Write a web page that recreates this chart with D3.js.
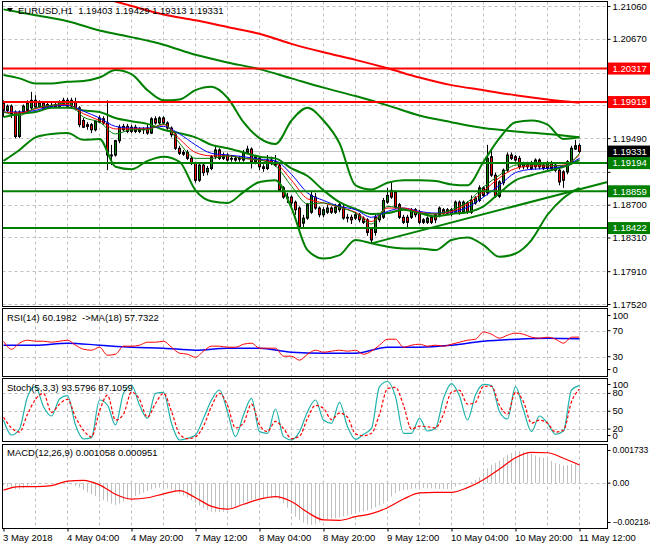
<!DOCTYPE html>
<html>
<head>
<meta charset="utf-8">
<script src="https://cdn.jsdelivr.net/npm/d3@7"></script>
<style>
body { margin: 0; background: #fff; }
svg { display: block; font-family: "Liberation Sans", Arial, sans-serif; font-size: 9.5px; }
</style>
</head>
<body>
<svg id="chart" width="650" height="550"></svg>
<script>
// ---- data (EURUSD H1) ----
const timeLabels = ["3 May 2018", "4 May 04:00", "4 May 20:00", "7 May 12:00", "8 May 04:00",
  "8 May 20:00", "9 May 12:00", "10 May 04:00", "10 May 20:00", "11 May 12:00"];
const priceTicks = [1.21060, 1.20670, 1.20270, 1.19880, 1.19490, 1.19090, 1.18700, 1.18310, 1.17910, 1.17520];

const opens = [1.1991, 1.1982, 1.1987, 1.1980, 1.1951, 1.1980, 1.1982, 1.1985, 1.1994, 1.1986,
  1.1991, 1.1989, 1.1986, 1.1989, 1.1986, 1.1989, 1.1994, 1.1987, 1.1992, 1.1985,
  1.1970, 1.1965, 1.1965, 1.1959, 1.1968, 1.1972, 1.1967, 1.1929, 1.1929, 1.1946,
  1.1959, 1.1963, 1.1957, 1.1962, 1.1957, 1.1960, 1.1961, 1.1955, 1.1972, 1.1967,
  1.1973, 1.1967, 1.1961, 1.1953, 1.1937, 1.1930, 1.1932, 1.1925, 1.1919, 1.1899,
  1.1917, 1.1909, 1.1913, 1.1927, 1.1935, 1.1925, 1.1929, 1.1925, 1.1925, 1.1924,
  1.1923, 1.1932, 1.1936, 1.1921, 1.1925, 1.1915, 1.1913, 1.1923, 1.1921, 1.1917,
  1.1890, 1.1879, 1.1879, 1.1873, 1.1866, 1.1848, 1.1854, 1.1861, 1.1879, 1.1866,
  1.1858, 1.1861, 1.1866, 1.1861, 1.1864, 1.1867, 1.1855, 1.1855, 1.1854, 1.1858,
  1.1854, 1.1852, 1.1841, 1.1837, 1.1852, 1.1855, 1.1873, 1.1887, 1.1885, 1.1870,
  1.1855, 1.1855, 1.1855, 1.1864, 1.1861, 1.1852, 1.1849, 1.1855, 1.1858, 1.1858,
  1.1864, 1.1860, 1.1864, 1.1861, 1.1873, 1.1861, 1.1872, 1.1861, 1.1872, 1.1875,
  1.1890, 1.1884, 1.1927, 1.1905, 1.1880, 1.1896, 1.1911, 1.1929, 1.1927, 1.1925,
  1.1915, 1.1918, 1.1913, 1.1915, 1.1923, 1.1917, 1.1913, 1.1919, 1.1911, 1.1911,
  1.1909, 1.1909, 1.1921, 1.1936, 1.19403];
const highs = [1.1994, 1.1989, 1.1989, 1.1982, 1.1982, 1.1989, 1.1994, 1.2004, 1.2000, 1.1994,
  1.1993, 1.1992, 1.1991, 1.1992, 1.1994, 1.1997, 1.1997, 1.1997, 1.1997, 1.1987,
  1.1973, 1.1968, 1.1967, 1.1970, 1.1976, 1.1975, 1.1994, 1.1941, 1.1947, 1.1965,
  1.1966, 1.1966, 1.1965, 1.1965, 1.1962, 1.1962, 1.1965, 1.1974, 1.1975, 1.1975,
  1.1975, 1.1969, 1.1963, 1.1955, 1.1940, 1.1935, 1.1935, 1.1928, 1.1921, 1.1919,
  1.1919, 1.1916, 1.1929, 1.1941, 1.1937, 1.1932, 1.1931, 1.1929, 1.1928, 1.1928,
  1.1935, 1.1940, 1.1938, 1.1929, 1.1928, 1.1918, 1.1929, 1.1927, 1.1929, 1.1919,
  1.1892, 1.1884, 1.1881, 1.1875, 1.1868, 1.1858, 1.1872, 1.1885, 1.1884, 1.1868,
  1.1867, 1.1870, 1.1868, 1.1871, 1.1873, 1.1870, 1.1859, 1.1858, 1.1861, 1.1860,
  1.1856, 1.1854, 1.1843, 1.1858, 1.1860, 1.1878, 1.1890, 1.1897, 1.1887, 1.1872,
  1.1858, 1.1858, 1.1866, 1.1866, 1.1864, 1.1854, 1.1856, 1.1858, 1.1860, 1.1868,
  1.1866, 1.1866, 1.1866, 1.1875, 1.1875, 1.1875, 1.1874, 1.1881, 1.1880, 1.1893,
  1.1892, 1.1941, 1.1935, 1.1908, 1.1899, 1.1913, 1.1932, 1.1932, 1.1929, 1.1928,
  1.1921, 1.1921, 1.1922, 1.1925, 1.1925, 1.1919, 1.1922, 1.1922, 1.1919, 1.1913,
  1.1911, 1.1923, 1.1940, 1.1947, 1.19429];
const lows = [1.1974, 1.1979, 1.1973, 1.1949, 1.1949, 1.1978, 1.1980, 1.1982, 1.1984, 1.1985,
  1.1984, 1.1984, 1.1985, 1.1985, 1.1985, 1.1987, 1.1986, 1.1986, 1.1982, 1.1962,
  1.1961, 1.1959, 1.1955, 1.1957, 1.1967, 1.1965, 1.1911, 1.1917, 1.1927, 1.1943,
  1.1957, 1.1955, 1.1955, 1.1955, 1.1955, 1.1954, 1.1953, 1.1954, 1.1965, 1.1965,
  1.1965, 1.1959, 1.1950, 1.1935, 1.1929, 1.1928, 1.1923, 1.1917, 1.1896, 1.1897,
  1.1904, 1.1905, 1.1911, 1.1924, 1.1923, 1.1923, 1.1921, 1.1921, 1.1921, 1.1921,
  1.1921, 1.1930, 1.1913, 1.1918, 1.1911, 1.1909, 1.1911, 1.1917, 1.1915, 1.1885,
  1.1877, 1.1872, 1.1864, 1.1858, 1.1840, 1.1842, 1.1852, 1.1859, 1.1864, 1.1855,
  1.1855, 1.1859, 1.1859, 1.1859, 1.1861, 1.1852, 1.1849, 1.1847, 1.1852, 1.1849,
  1.1847, 1.1833, 1.1824, 1.1833, 1.1849, 1.1853, 1.1871, 1.1877, 1.1865, 1.1853,
  1.1847, 1.1842, 1.1853, 1.1855, 1.1847, 1.1847, 1.1847, 1.1847, 1.1848, 1.1855,
  1.1858, 1.1858, 1.1856, 1.1859, 1.1858, 1.1859, 1.1859, 1.1859, 1.1870, 1.1873,
  1.1879, 1.1881, 1.1903, 1.1878, 1.1878, 1.1893, 1.1909, 1.1923, 1.1921, 1.1912,
  1.1912, 1.1912, 1.1911, 1.1912, 1.1912, 1.1911, 1.1911, 1.1911, 1.1909, 1.1893,
  1.1890, 1.1906, 1.1918, 1.1935, 1.19313];
const closes = [1.1982, 1.1987, 1.1978, 1.1951, 1.1980, 1.1987, 1.1991, 1.1994, 1.1986, 1.1991,
  1.1985, 1.1986, 1.1988, 1.1986, 1.1992, 1.1994, 1.1987, 1.1994, 1.1984, 1.1965,
  1.1962, 1.1963, 1.1959, 1.1969, 1.1973, 1.1967, 1.1929, 1.1928, 1.1946, 1.1962,
  1.1963, 1.1957, 1.1962, 1.1957, 1.1960, 1.1959, 1.1955, 1.1972, 1.1967, 1.1973,
  1.1967, 1.1961, 1.1953, 1.1937, 1.1931, 1.1932, 1.1925, 1.1919, 1.1899, 1.1917,
  1.1908, 1.1913, 1.1927, 1.1935, 1.1925, 1.1929, 1.1923, 1.1924, 1.1923, 1.1925,
  1.1932, 1.1936, 1.1921, 1.1927, 1.1915, 1.1913, 1.1923, 1.1919, 1.1917, 1.1887,
  1.1879, 1.1878, 1.1872, 1.1864, 1.1843, 1.1854, 1.1870, 1.1881, 1.1866, 1.1858,
  1.1864, 1.1866, 1.1861, 1.1867, 1.1870, 1.1854, 1.1854, 1.1852, 1.1858, 1.1852,
  1.1849, 1.1837, 1.1828, 1.1855, 1.1858, 1.1875, 1.1881, 1.1879, 1.1867, 1.1855,
  1.1849, 1.1849, 1.1864, 1.1858, 1.1849, 1.1849, 1.1854, 1.1849, 1.1852, 1.1866,
  1.1860, 1.1864, 1.1859, 1.1873, 1.1860, 1.1873, 1.1861, 1.1875, 1.1878, 1.1890,
  1.1881, 1.1925, 1.1905, 1.1880, 1.1897, 1.1911, 1.1929, 1.1925, 1.1923, 1.1915,
  1.1918, 1.1915, 1.1919, 1.1923, 1.1915, 1.1913, 1.1919, 1.1913, 1.1917, 1.1897,
  1.1899, 1.1921, 1.1937, 1.1940, 1.19331];

// indicator lines, one value every 4 bars
const bandStep = 4;
const bbUpper = [1.2024, 1.2020, 1.2014, 1.2014, 1.2016, 1.2017, 1.2021, 1.2030, 1.2025, 1.2006,
  1.1994, 1.1995, 1.2006, 1.2010, 1.1997, 1.1968, 1.1949, 1.1942, 1.1970, 1.1985,
  1.1970, 1.1943, 1.1893, 1.1888, 1.1896, 1.1899, 1.1899, 1.1898, 1.1894, 1.1893,
  1.1921, 1.1949, 1.1968, 1.1970, 1.1965, 1.1948, 1.1950];
const bbMiddle = [1.1974, 1.1978, 1.1980, 1.1985, 1.1985, 1.1982, 1.1980, 1.1973, 1.1969, 1.1966,
  1.1959, 1.1955, 1.1950, 1.1941, 1.1937, 1.1932, 1.1927, 1.1925, 1.1913, 1.1904,
  1.1887, 1.1873, 1.1865, 1.1859, 1.1860, 1.1864, 1.1860, 1.1856, 1.1859, 1.1861,
  1.1868, 1.1884, 1.1899, 1.1905, 1.1910, 1.1915, 1.1923];
const bbLower = [1.1922, 1.1935, 1.1950, 1.1954, 1.1955, 1.1947, 1.1948, 1.1915, 1.1912, 1.1922,
  1.1927, 1.1921, 1.1887, 1.1874, 1.1872, 1.1885, 1.1897, 1.1899, 1.1866, 1.1816,
  1.1806, 1.1810, 1.1828, 1.1824, 1.1820, 1.1818, 1.1818, 1.1816, 1.1828, 1.1831,
  1.1822, 1.1808, 1.1812, 1.1828, 1.1858, 1.1878, 1.1890];
const maBlue = [1.1980, 1.1980, 1.1982, 1.1987, 1.1988, 1.1981, 1.1973, 1.1963, 1.1961, 1.1961,
  1.1963, 1.1954, 1.1941, 1.1931, 1.1929, 1.1927, 1.1924, 1.1922, 1.1906, 1.1884,
  1.1875, 1.1868, 1.1864, 1.1855, 1.1862, 1.1866, 1.1862, 1.1860, 1.1861, 1.1867,
  1.1879, 1.1893, 1.1908, 1.1912, 1.1913, 1.1916, 1.1925];
const maRed = [1.1980, 1.1979, 1.1984, 1.1988, 1.1989, 1.1978, 1.1970, 1.1960, 1.1960, 1.1960,
  1.1965, 1.1948, 1.1932, 1.1928, 1.1928, 1.1925, 1.1923, 1.1919, 1.1899, 1.1877,
  1.1872, 1.1867, 1.1861, 1.1850, 1.1866, 1.1866, 1.1861, 1.1859, 1.1862, 1.1871,
  1.1886, 1.1902, 1.1913, 1.1916, 1.1916, 1.1917, 1.1929];
const maGreen = [1.1980, 1.1976, 1.1985, 1.1988, 1.1991, 1.1974, 1.1968, 1.1954, 1.1959, 1.1959,
  1.1966, 1.1943, 1.1925, 1.1925, 1.1928, 1.1925, 1.1923, 1.1916, 1.1892, 1.1871,
  1.1872, 1.1867, 1.1860, 1.1847, 1.1868, 1.1865, 1.1860, 1.1859, 1.1864, 1.1873,
  1.1891, 1.1905, 1.1917, 1.1918, 1.1917, 1.1916, 1.1931];

// slow moving averages, one value every 8 bars
const slowStep = 8;
const slowRed = [1.2149, 1.2139, 1.2128, 1.2117, 1.2106, 1.2096, 1.2089, 1.2081, 1.2073, 1.2061,
  1.2051, 1.2042, 1.2032, 1.2021, 1.2012, 1.2006, 1.2000, 1.1995, 1.1991];
const slowGreen = [1.2102, 1.2095, 1.2088, 1.2077, 1.2069, 1.2060, 1.2048, 1.2039, 1.2031, 1.2020,
  1.2009, 1.1999, 1.1988, 1.1976, 1.1968, 1.1961, 1.1957, 1.1954, 1.1950];

const redLevels = [1.20317, 1.19919];
const greenLevels = [1.19194, 1.18859, 1.18422];
const trendIdx = [92, 151];
const trendPrice = [1.1824, 1.1897];

// oscillators, one value every 2 bars
const oscStep = 2;
const rsiValues = [53.8, 41.5, 50.8, 55.4, 53.8, 53.8, 52.3, 53.8, 55.4, 47.7,
  41.5, 40.0, 44.6, 32.3, 33.8, 46.2, 46.2, 47.7, 52.3, 52.3,
  53.8, 44.6, 35.4, 33.8, 29.2, 38.5, 46.2, 46.2, 44.6, 44.6,
  49.2, 50.8, 43.1, 43.1, 43.1, 30.8, 30.8, 24.6, 33.8, 40.0,
  36.9, 38.5, 40.0, 38.5, 40.0, 33.8, 38.5, 47.7, 56.9, 56.9,
  44.6, 47.7, 49.2, 46.2, 47.7, 46.2, 49.2, 52.3, 55.4, 56.9,
  68.0, 64.6, 58.5, 63.1, 66.2, 64.6, 60.0, 58.5, 60.0, 56.9,
  50.8, 60.0, 60.2];
const rsiMaStep = 8;
const rsiMa = [47.7, 47.7, 50.8, 47.7, 44.6, 43.1, 40.0, 43.1, 43.1, 36.9,
  35.4, 35.4, 44.6, 44.6, 47.7, 53.8, 56.9, 58.5, 57.7];
const stochMain = [35.3, 10.1, 20.2, 74.5, 91.3, 57.7, 42.0, 70.6, 76.2, 26.9,
  3.4, 5.6, 68.9, 60.5, 26.9, 80.1, 94.1, 60.5, 38.1, 80.1,
  81.8, 29.7, 1.7, 4.5, 10.1, 38.1, 68.9, 85.7, 49.3, 7.3,
  43.7, 71.7, 15.7, 12.9, 53.8, 7.3, 1.7, 15.7, 49.3, 68.9,
  35.3, 29.7, 65.0, 24.1, 2.8, 11.2, 21.3, 91.3, 100, 74.5,
  12.9, 12.9, 38.1, 16.8, 21.3, 71.7, 96.4, 75.6, 35.3, 77.3,
  95.2, 93.0, 49.3, 37.0, 91.3, 52.1, 15.7, 42.0, 29.7, 11.2,
  16.8, 85.7, 93.58];
const stochSignal = [40, 22, 15, 45, 70, 80, 48, 62, 70, 40,
  18, 7, 50, 77, 35, 45, 82, 70, 40, 63,
  80, 50, 12, 4, 7, 25, 58, 80, 60, 22,
  30, 62, 27, 16, 33, 21, 4, 8, 38, 60,
  55, 36, 47, 40, 12, 9, 13, 45, 88, 90,
  60, 20, 25, 24, 22, 45, 82, 85, 62, 65,
  92, 92, 60, 45, 82, 66, 30, 35, 30, 15,
  18, 66, 87.11];

// MACD histogram, one per bar; signal one every 4 bars
const macdHist = [-0.00009, -0.00018, -0.00027, -0.00032, -0.00032, -0.00027, -0.00018, -0.00009, -0.00004, -0.00002,
  -0.00002, -0.00002, -0.00002, -0.00002, -0.00003, -0.00004, -0.00005, -0.00006, -0.00013, -0.00023,
  -0.00036, -0.00048, -0.00058, -0.00067, -0.00076, -0.00088, -0.00096, -0.00107, -0.00114, -0.00107,
  -0.00096, -0.00086, -0.00076, -0.00067, -0.00058, -0.00049, -0.00041, -0.00032, -0.00027, -0.00023,
  -0.00023, -0.00027, -0.00034, -0.00044, -0.00055, -0.00065, -0.00076, -0.00089, -0.00103, -0.00117,
  -0.00131, -0.00142, -0.00149, -0.00152, -0.00152, -0.00149, -0.00142, -0.00133, -0.00124, -0.00114,
  -0.00105, -0.00096, -0.00089, -0.00084, -0.00079, -0.00077, -0.00077, -0.00076, -0.00076, -0.00084,
  -0.00105, -0.00128, -0.00152, -0.00175, -0.00192, -0.00206, -0.00215, -0.00218, -0.00215, -0.00204,
  -0.00192, -0.00190, -0.00187, -0.00183, -0.00178, -0.00173, -0.00168, -0.00163, -0.00157, -0.00152,
  -0.00147, -0.00142, -0.00135, -0.00126, -0.00117, -0.00107, -0.00093, -0.00070, -0.00053, -0.00041,
  -0.00036, -0.00034, -0.00030, -0.00027, -0.00023, -0.00025, -0.00027, -0.00027, -0.00029, -0.00030,
  -0.00030, -0.00030, -0.00027, -0.00018, -0.00009, -0.00002, 0.00003, 0.00008, 0.00017, 0.00031,
  0.00055, 0.00078, 0.00095, 0.00106, 0.00118, 0.00133, 0.00147, 0.00158, 0.00166, 0.00168,
  0.00165, 0.00159, 0.00153, 0.00144, 0.00137, 0.00132, 0.00125, 0.00116, 0.00106, 0.00099,
  0.00092, 0.00095, 0.00099, 0.00102, 0.001058];
const macdSignal = [-0.00036, -0.00018, -0.00018, -0.00013, 0.00011, 0.00015, -0.00009, -0.00058, -0.00083, -0.00076,
  -0.00056, -0.00039, -0.00076, -0.00121, -0.00136, -0.00110, -0.00083, -0.00070, -0.00096, -0.00152,
  -0.00192, -0.00194, -0.00175, -0.00159, -0.00128, -0.00083, -0.00051, -0.00048, -0.00048, -0.00023,
  0.00018, 0.00074, 0.00133, 0.00161, 0.00159, 0.00130, 0.000951];

// ---- layout ----
const C = { green: "#008000", red: "#ff0000", blue: "#0000ff", grid: "#c0c0c0", teal: "#20b2aa" };
const left = 2.5, right = 607.5;
const P = {
  main: { top: 1.5, bottom: 306.5 },
  rsi: { top: 308.5, bottom: 376.5 },
  stoch: { top: 378.5, bottom: 441.5 },
  macd: { top: 444.5, bottom: 528.5 }
};

const svg = d3.select("#chart");
const lastBar = closes.length - 1;
const x = d3.scaleLinear().domain([0, lastBar]).range([3.5, 579.5]);
const yPrice = d3.scaleLinear().domain([1.17520, 1.21060]).range([304, 6]);
const yRsi = d3.scaleLinear().domain([0, 100]).range([376.2, 311.2]);
const yStoch = d3.scaleLinear().domain([0, 100]).range([441, 381.5]);
const yMacd = d3.scaleLinear().domain([-0.002184, 0.001733]).range([525, 450]);

const gridIdx = d3.range(8, lastBar + 1, 8);
const labelIdx = d3.range(0, lastBar + 1, 16);

function panel(id, p) {
  svg.append("clipPath").attr("id", "clip-" + id)
    .append("rect").attr("x", left).attr("y", p.top)
    .attr("width", right - left).attr("height", p.bottom - p.top);
  const g = svg.append("g").attr("clip-path", "url(#clip-" + id + ")");
  g.selectAll(".vgrid").data(gridIdx).join("line")
    .attr("x1", d => x(d)).attr("x2", d => x(d))
    .attr("y1", p.top).attr("y2", p.bottom)
    .attr("stroke", C.grid).attr("stroke-dasharray", "3,3");
  return g;
}

function hgrid(g, scale, vals) {
  g.selectAll(null).data(vals).join("line")
    .attr("x1", left).attr("x2", right)
    .attr("y1", d => Math.round(scale(d)) + 0.5).attr("y2", d => Math.round(scale(d)) + 0.5)
    .attr("stroke", C.grid).attr("stroke-dasharray", "3,3");
}

function border(p) {
  svg.append("rect").attr("x", left).attr("y", p.top)
    .attr("width", right - left).attr("height", p.bottom - p.top)
    .attr("fill", "none").attr("stroke", "#000");
}

function series(g, scale, step, values, color, width, dash) {
  const line = d3.line().x((d, k) => x(k * step)).y(d => scale(d));
  if (step > 1) line.curve(d3.curveMonotoneX);
  g.append("path").datum(values)
    .attr("d", line).attr("fill", "none")
    .attr("stroke", color).attr("stroke-width", width)
    .attr("stroke-dasharray", dash || null);
}

function rightAxis(scale, vals, fmt, p, margin, size) {
  const a = svg.append("g").attr("transform", `translate(${right},0)`)
    .call(d3.axisRight(scale).tickValues(vals).tickFormat(fmt).tickSize(3).tickPadding(2));
  a.select(".domain").remove();
  a.attr("font-family", null).attr("font-size", size || null);
  if (margin) {
    a.selectAll(".tick").attr("transform",
      d => `translate(0,${Math.max(p.top + margin, Math.min(p.bottom - margin, scale(d)))})`);
  }
  return a;
}

// ---- main chart ----
const gMain = panel("main", P.main);
hgrid(gMain, yPrice, priceTicks);

// current bid line
gMain.append("line")
  .attr("x1", left).attr("x2", right)
  .attr("y1", yPrice(closes[lastBar])).attr("y2", yPrice(closes[lastBar]))
  .attr("stroke", C.grid);

const bars = d3.range(closes.length).map(i => ({ i, o: opens[i], h: highs[i], l: lows[i], c: closes[i] }));
gMain.selectAll(".wick").data(bars).join("line")
  .attr("x1", d => x(d.i)).attr("x2", d => x(d.i))
  .attr("y1", d => yPrice(d.h)).attr("y2", d => yPrice(d.l))
  .attr("stroke", "#000");
gMain.selectAll(".body").data(bars).join("rect")
  .attr("x", d => x(d.i) - 1).attr("width", 2)
  .attr("y", d => yPrice(Math.max(d.o, d.c)))
  .attr("height", d => Math.max(0.5, Math.abs(yPrice(d.o) - yPrice(d.c))))
  .attr("fill", d => d.c >= d.o ? C.green : C.red)
  .attr("stroke", "#000");

series(gMain, yPrice, slowStep, slowRed, C.red, 2);
series(gMain, yPrice, slowStep, slowGreen, C.green, 2);
series(gMain, yPrice, bandStep, bbUpper, C.green, 2);
series(gMain, yPrice, bandStep, bbMiddle, C.green, 2);
series(gMain, yPrice, bandStep, bbLower, C.green, 2);
series(gMain, yPrice, bandStep, maBlue, C.blue, 1);
series(gMain, yPrice, bandStep, maRed, C.red, 1);
series(gMain, yPrice, bandStep, maGreen, C.green, 1);

gMain.selectAll(".lvlR").data(redLevels).join("line")
  .attr("x1", left).attr("x2", right)
  .attr("y1", d => yPrice(d)).attr("y2", d => yPrice(d))
  .attr("stroke", C.red).attr("stroke-width", 2);
gMain.selectAll(".lvlG").data(greenLevels).join("line")
  .attr("x1", left).attr("x2", right)
  .attr("y1", d => yPrice(d)).attr("y2", d => yPrice(d))
  .attr("stroke", C.green).attr("stroke-width", 2);
gMain.append("line")
  .attr("x1", x(trendIdx[0])).attr("x2", x(trendIdx[1]))
  .attr("y1", yPrice(trendPrice[0])).attr("y2", yPrice(trendPrice[1]))
  .attr("stroke", C.green).attr("stroke-width", 2);

svg.append("path").attr("d", "M7,8L13,8L10,12Z").attr("fill", "#000");
svg.append("text").attr("x", 18).attr("y", 13.5).style("white-space", "pre")
  .text("EURUSD,H1  1.19403 1.19429 1.19313 1.19331");
border(P.main);

// price tags on the axis
const tags = redLevels.map(v => ({ v, bg: C.red }))
  .concat([{ v: closes[lastBar], bg: "#000" }])
  .concat(greenLevels.map(v => ({ v, bg: C.green })));

const mainAxis = rightAxis(yPrice, priceTicks, d3.format(".5f"), P.main, 0);
// tick labels that sit under a price tag are hidden by it
mainAxis.selectAll(".tick text")
  .attr("visibility", d => tags.some(t => Math.abs(yPrice(t.v) - yPrice(d)) < 9) ? "hidden" : null);

const tagG = svg.selectAll(".tag").data(tags).join("g")
  .attr("transform", d => `translate(${right + 0.5},${yPrice(d.v)})`);
tagG.append("rect").attr("x", 0).attr("y", -6).attr("width", 43).attr("height", 12).attr("fill", d => d.bg);
tagG.append("text").attr("x", 4.5).attr("dy", "0.35em").attr("fill", "#fff")
  .text(d => d3.format(".5f")(d.v));

// ---- RSI ----
const gRsi = panel("rsi", P.rsi);
hgrid(gRsi, yRsi, [70, 30]);
series(gRsi, yRsi, rsiMaStep, rsiMa, C.blue, 1.5);
series(gRsi, yRsi, oscStep, rsiValues, C.red, 1);
border(P.rsi);
svg.append("text").attr("x", 7).attr("y", 321).text("RSI(14) 60.1982  ->MA(18) 57.7322").style("white-space", "pre");
rightAxis(yRsi, [100, 70, 30, 0], d3.format("d"), P.rsi, 7);

// ---- Stochastic ----
const gSto = panel("stoch", P.stoch);
hgrid(gSto, yStoch, [80, 50, 20]);
series(gSto, yStoch, oscStep, stochMain, C.teal, 1.2);
series(gSto, yStoch, oscStep, stochSignal, C.red, 1.2, "3,2");
border(P.stoch);
svg.append("text").attr("x", 7).attr("y", 391).text("Stoch(5,3,3) 93.5796 87.1059");
rightAxis(yStoch, [100, 80, 50, 20, 0], d3.format("d"), P.stoch, 6);

// ---- MACD ----
const gMacd = panel("macd", P.macd);
hgrid(gMacd, yMacd, [0]);
gMacd.selectAll(".hist").data(macdHist).join("line")
  .attr("x1", (d, i) => x(i)).attr("x2", (d, i) => x(i))
  .attr("y1", yMacd(0)).attr("y2", d => yMacd(d))
  .attr("stroke", C.grid);
series(gMacd, yMacd, bandStep, macdSignal, C.red, 1.2);
border(P.macd);
svg.append("text").attr("x", 7).attr("y", 456).text("MACD(12,26,9) 0.001058 0.000951");
rightAxis(yMacd, [0.001733, 0, -0.002184], d => d === 0 ? "0.00" : d3.format(".6f")(d), P.macd, 6, "8.6px");

// ---- time axis ----
const xa = svg.append("g").attr("transform", `translate(0,${P.macd.bottom})`)
  .call(d3.axisBottom(x).tickValues(labelIdx).tickFormat((d, i) => timeLabels[i]).tickSize(3).tickPadding(3));
xa.select(".domain").remove();
xa.attr("font-family", null).attr("font-size", null);
xa.selectAll("text").attr("text-anchor", "start").attr("x", -1);
</script>
</body>
</html>
